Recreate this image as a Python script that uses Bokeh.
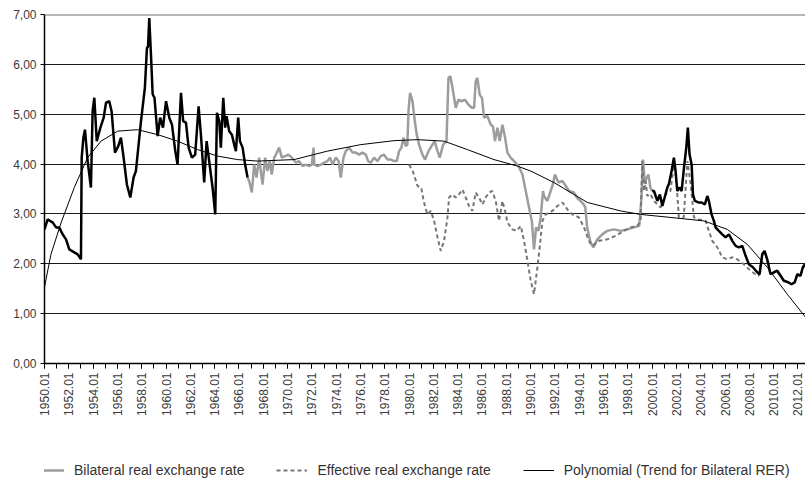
from bokeh.plotting import figure
from bokeh.layouts import column
from bokeh.models import (ColumnDataSource, FixedTicker, CustomJSTickFormatter,
                          Legend, LegendItem, Span)
from bokeh.embed import file_html
from bokeh.resources import INLINE

# ---- Bilateral real exchange rate (decimal year, value) ----
bil_year = [
    1950.00, 1950.26, 1950.45, 1950.67, 1950.95, 1951.20, 1951.50, 1951.77, 1952.04, 1952.45,
    1952.73, 1953.00, 1953.06, 1953.20, 1953.33, 1953.55, 1953.82, 1953.96, 1954.10, 1954.30,
    1954.60, 1954.87, 1955.06, 1955.33, 1955.52, 1955.80, 1956.07, 1956.29, 1956.51, 1956.78,
    1957.06, 1957.33, 1957.52, 1957.94, 1958.26, 1958.43, 1958.52, 1958.62, 1958.76, 1958.90,
    1959.05, 1959.31, 1959.52, 1959.75, 1960.00, 1960.27, 1960.49, 1960.76, 1960.95, 1961.23,
    1961.41, 1961.64, 1961.86, 1962.13, 1962.40, 1962.68, 1962.87, 1963.14, 1963.34, 1963.55,
    1963.83, 1964.05, 1964.19, 1964.38, 1964.51, 1964.71, 1964.87, 1964.98, 1965.20, 1965.42,
    1965.61, 1965.75, 1965.94, 1966.08, 1966.30, 1966.51, 1966.71,
    1966.84, 1967.06, 1967.25, 1967.45, 1967.66, 1967.94, 1968.16, 1968.35, 1968.54, 1968.70,
    1968.90, 1969.05, 1969.31, 1969.53, 1969.80, 1970.08, 1970.35, 1970.68, 1970.95, 1971.23,
    1971.50, 1971.78, 1972.00, 1972.14, 1972.20, 1972.47, 1972.74, 1973.01, 1973.28, 1973.50,
    1973.70, 1973.97, 1974.20, 1974.38, 1974.60, 1974.79, 1975.07, 1975.35, 1975.62, 1975.89,
    1976.16, 1976.44, 1976.63, 1976.85, 1977.12, 1977.40, 1977.67, 1977.94, 1978.22, 1978.50,
    1978.77, 1978.99, 1979.18, 1979.37, 1979.54, 1979.73, 1979.86, 1979.95, 1980.08, 1980.28,
    1980.47, 1980.63, 1980.82, 1981.10, 1981.32, 1981.60, 1981.92, 1982.10, 1982.34, 1982.52,
    1982.80, 1983.08, 1983.24, 1983.40, 1983.62, 1983.84, 1984.06, 1984.33, 1984.60, 1984.89,
    1985.16, 1985.35, 1985.48, 1985.62, 1985.81, 1986.00, 1986.17, 1986.45, 1986.72, 1986.90,
    1987.07, 1987.27, 1987.46, 1987.68, 1987.90, 1988.09, 1988.36, 1988.64, 1989.00, 1989.33,
    1989.60, 1989.87, 1990.10, 1990.28, 1990.45, 1990.64, 1990.83, 1991.02, 1991.10, 1991.38,
    1991.65, 1991.83, 1992.00, 1992.30, 1992.62, 1992.90, 1993.16, 1993.57, 1993.80, 1994.10,
    1994.37, 1994.50, 1994.65, 1994.93, 1995.16, 1995.49, 1995.90, 1996.30, 1996.86, 1997.41,
    1997.96, 1998.50, 1998.94, 1999.10, 1999.25, 1999.40, 1999.55, 1999.70, 1999.85, 2000.00,
    2000.15, 2000.43, 2000.64, 2000.84, 2001.03, 2001.25, 2001.38, 2001.60, 2001.79, 2001.93,
    2002.07, 2002.26, 2002.43, 2002.62, 2002.81, 2002.94, 2003.08, 2003.25, 2003.36, 2003.52,
    2003.80, 2004.07, 2004.34, 2004.54, 2004.67, 2004.89, 2005.08, 2005.22, 2005.49, 2005.77,
    2006.04, 2006.32, 2006.60, 2006.87, 2007.14, 2007.42, 2007.69, 2007.96, 2008.29, 2008.65,
    2008.84, 2009.06, 2009.25, 2009.47, 2009.74, 2010.02, 2010.30, 2010.57, 2010.84, 2011.20,
    2011.47, 2011.74, 2011.94, 2012.21, 2012.40, 2012.57,
]
bil_value = [
    2.69, 2.89, 2.86, 2.83, 2.73, 2.73, 2.59, 2.49, 2.29, 2.23,
    2.19, 2.09, 4.13, 4.53, 4.69, 4.06, 3.53, 5.06, 5.33, 4.46,
    4.73, 4.93, 5.23, 5.26, 5.06, 4.23, 4.36, 4.53, 4.13, 3.59,
    3.33, 3.73, 3.86, 4.86, 5.53, 6.33, 6.36, 6.93, 6.20, 5.40,
    5.33, 4.56, 4.93, 4.73, 5.26, 4.93, 4.79, 4.26, 3.99, 5.43,
    4.86, 4.83, 4.33, 4.13, 4.19, 5.16, 4.59, 3.63, 4.46, 4.06,
    3.53, 2.99, 5.03, 4.86, 4.33, 5.33, 4.73, 4.96, 4.66, 4.59,
    4.39, 4.26, 4.93, 4.46, 4.33, 3.99, 3.73,
    3.66, 3.43, 3.99, 3.73, 4.13, 3.59, 4.13, 3.86, 4.06, 3.79,
    4.13, 4.19, 4.33, 4.13, 4.16, 4.19, 4.13, 4.03, 4.06, 3.96,
    3.99, 3.96, 3.99, 4.33, 3.99, 3.96, 3.99, 4.03, 4.06, 4.13,
    3.99, 4.13, 4.06, 3.73, 4.13, 4.26, 4.33, 4.23, 4.23, 4.19,
    4.23, 4.19, 4.06, 4.03, 4.13, 4.06, 4.16, 4.19, 4.09, 4.09,
    4.06, 4.06, 4.26, 4.33, 4.53, 4.36, 4.39, 5.06, 5.43, 5.26,
    4.86, 4.59, 4.39, 4.19, 4.09, 4.26, 4.39, 4.46, 4.26, 4.13,
    4.39, 4.46, 5.73, 5.76, 5.46, 5.13, 5.29, 5.26, 5.29, 5.19,
    5.13, 5.13, 5.66, 5.73, 5.39, 5.33, 4.93, 4.96, 4.79, 4.76,
    4.46, 4.73, 4.46, 4.79, 4.53, 4.23, 4.13, 4.06, 3.96, 3.79,
    3.46, 3.13, 2.86, 2.29, 2.73, 2.66, 2.93, 3.46, 3.36, 3.26,
    3.46, 3.59, 3.79, 3.63, 3.66, 3.56, 3.46, 3.43, 3.33, 3.26,
    3.19, 3.13, 2.73, 2.43, 2.33, 2.49, 2.59, 2.66, 2.69, 2.66,
    2.69, 2.73, 2.76, 3.26, 4.09, 3.60, 3.73, 3.79, 3.53, 3.46,
    3.46, 3.26, 3.39, 3.16, 3.33, 3.53, 3.60, 3.86, 4.13, 3.86,
    3.46, 3.53, 3.46, 3.93, 4.33, 4.73, 4.19, 3.99, 3.39, 3.26,
    3.23, 3.23, 3.19, 3.36, 3.26, 2.99, 2.86, 2.73, 2.66, 2.59,
    2.53, 2.59, 2.46, 2.36, 2.33, 2.36, 2.16, 1.99, 1.93, 1.83,
    1.79, 2.19, 2.26, 2.09, 1.79, 1.83, 1.86, 1.76, 1.66, 1.63,
    1.59, 1.63, 1.79, 1.76, 1.93, 1.99,
]

# ---- Effective real exchange rate ----
eff_year = [
    1980.00, 1980.30, 1980.70, 1981.00, 1981.20, 1981.50, 1981.78, 1982.06, 1982.34, 1982.60,
    1982.88, 1983.16, 1983.29, 1983.55, 1983.84, 1984.10, 1984.39, 1984.66, 1984.93, 1985.21,
    1985.48, 1985.75, 1986.04, 1986.30, 1986.58, 1986.85, 1987.13, 1987.40, 1987.68, 1987.90,
    1988.09, 1988.50, 1988.85, 1989.19, 1989.46, 1989.74, 1990.01, 1990.28, 1990.56, 1990.75,
    1990.97, 1991.24, 1991.79, 1992.20, 1992.62, 1993.03, 1993.44, 1993.98, 1994.39, 1994.80,
    1995.08, 1995.63, 1996.32, 1997.00, 1997.68, 1998.23, 1998.78, 1999.05, 1999.19, 1999.33,
    1999.47, 1999.60, 1999.85, 2000.15, 2000.70, 2001.10, 2001.50, 2001.83, 2002.05, 2002.20,
    2002.60, 2002.90, 2003.17, 2003.44, 2003.85, 2004.40, 2004.67, 2004.95, 2005.36, 2005.77,
    2006.18, 2006.60, 2007.00, 2007.55, 2008.10, 2008.50, 2008.78, 2009.06, 2009.25, 2009.47,
    2009.74, 2010.02, 2010.30, 2010.57, 2010.84, 2011.20, 2011.47, 2011.74, 2011.94, 2012.21,
    2012.40, 2012.57,
]
eff_value = [
    3.99, 3.86, 3.56, 3.53, 3.26, 2.99, 3.06, 2.86, 2.53, 2.26,
    2.46, 2.93, 3.33, 3.39, 3.33, 3.39, 3.49, 3.33, 3.16, 3.06,
    3.43, 3.33, 3.19, 3.33, 3.43, 3.46, 3.26, 2.86, 3.26, 3.06,
    2.83, 2.69, 2.66, 2.76, 2.46, 2.06, 1.66, 1.39, 1.93, 2.33,
    2.86, 2.99, 3.06, 3.16, 3.23, 3.09, 2.99, 2.93, 2.73, 2.46,
    2.36, 2.46, 2.49, 2.56, 2.66, 2.73, 2.76, 2.86, 4.06, 3.46,
    3.66, 3.36, 3.40, 3.26, 3.13, 3.39, 3.46, 4.06, 3.46, 2.93,
    2.93, 4.06, 3.60, 2.93, 2.89, 2.86, 2.66, 2.46, 2.33, 2.13,
    2.09, 2.13, 2.09, 1.99, 1.86, 1.79, 1.76, 2.19, 2.24, 2.07,
    1.79, 1.81, 1.84, 1.74, 1.66, 1.63, 1.59, 1.63, 1.77, 1.76,
    1.91, 1.97,
]

# ---- Polynomial trend for bilateral RER ----
trend_year = [
    1950.00, 1950.53, 1951.36, 1952.45, 1953.55, 1954.65, 1956.02, 1957.66, 1959.31, 1960.95,
    1962.60, 1964.24, 1965.89, 1967.53, 1970.54, 1973.29, 1976.03, 1978.77, 1980.69, 1982.88,
    1984.80, 1986.99, 1988.91, 1990.01, 1991.92, 1994.67, 1997.41, 1999.05, 2001.50, 2004.26,
    2006.18, 2007.83, 2009.47, 2011.12, 2012.62,
]
trend_value = [
    1.53, 2.19, 2.82, 3.53, 4.13, 4.46, 4.66, 4.69, 4.59, 4.46,
    4.29, 4.16, 4.09, 4.06, 4.09, 4.26, 4.39, 4.47, 4.49, 4.46,
    4.29, 4.09, 3.96, 3.86, 3.63, 3.23, 3.06, 2.99, 2.93, 2.86,
    2.69, 2.39, 1.93, 1.39, 0.93,
]

x_label_years = list(range(1950, 2013, 2))
x_minor_years = list(range(1950, 2013, 1))
y_ticks = [0, 1, 2, 3, 4, 5, 6, 7]
y_grid_ticks = [1, 2, 3, 4, 5, 6]

labels = ["Bilateral real exchange rate", "Effective real exchange rate",
          "Polynomial (Trend for Bilateral RER)"]

# ---- split bilateral into black / gray / black segments ----
BLACK_END = 1966.71
GRAY_END = 2000.0
seg1 = [(x, y) for x, y in zip(bil_year, bil_value) if x <= BLACK_END]
seg2 = [(x, y) for x, y in zip(bil_year, bil_value) if BLACK_END <= x <= GRAY_END]
seg3 = [(x, y) for x, y in zip(bil_year, bil_value) if x >= GRAY_END]


def src(seg):
    return ColumnDataSource(dict(x=[s[0] for s in seg], y=[s[1] for s in seg]))


FONT = "Liberation Sans"
GRAY = dict(line_color="#9d9d9d", line_width=2.5)
DASH = dict(line_color="#767676", line_width=2, line_dash="4 3")
TREND = dict(line_color="black", line_width=1)

p = figure(width=805, height=440, output_backend="svg", toolbar_location=None,
           x_range=(1950, 2012.62), y_range=(0, 7),
           min_border_left=44, min_border_right=0, min_border_top=14,
           min_border_bottom=77, background_fill_color="white",
           border_fill_color="white")
p.outline_line_color = None
p.xgrid.visible = False
p.ygrid.ticker = FixedTicker(ticks=y_grid_ticks)
p.ygrid.grid_line_color = "#1a1a1a"
p.ygrid.grid_line_width = 1

p.add_layout(Span(location=7, dimension="width", line_color="#6e6e6e", line_width=2))

r_gray = p.line("x", "y", source=src(seg2), **GRAY)
r_eff = p.line(eff_year, eff_value, **DASH)
r_b1 = p.line("x", "y", source=src(seg1), line_color="black", line_width=2.5)
r_b3 = p.line("x", "y", source=src(seg3), line_color="black", line_width=2.5)
r_trend = p.line(trend_year, trend_value, **TREND)

# axes
xa = p.xaxis[0]
xa.ticker = FixedTicker(ticks=x_label_years, minor_ticks=x_minor_years)
xa.formatter = CustomJSTickFormatter(code="return tick.toFixed(0) + '.01'")
xa.major_label_orientation = 3.14159265 / 2
xa.axis_line_color = "black"
xa.axis_line_width = 1.5
xa.major_tick_out = 5
xa.major_tick_in = 0
xa.minor_tick_out = 5
xa.minor_tick_in = 0
xa.major_tick_line_color = "black"
xa.minor_tick_line_color = "black"
xa.major_label_text_font = FONT
xa.major_label_text_font_size = "12px"
xa.major_label_text_color = "#3a3a3a"
xa.major_label_standoff = 4

ya = p.yaxis[0]
ya.ticker = FixedTicker(ticks=y_ticks)
ya.formatter = CustomJSTickFormatter(code="return tick.toFixed(2).replace('.', ',')")
ya.axis_line_color = "black"
ya.axis_line_width = 1.5
ya.major_tick_out = 4
ya.major_tick_in = 0
ya.minor_tick_line_color = None
ya.major_tick_line_color = "black"
ya.major_label_text_font = FONT
ya.major_label_text_font_size = "12px"
ya.major_label_text_color = "#3a3a3a"
ya.major_label_standoff = 4

# ---- legend strip below the chart (legend-only proxies, nothing plotted) ----
pl = figure(width=805, height=41, output_backend="svg", toolbar_location=None,
            x_range=(0, 1), y_range=(0, 1), x_axis_location=None,
            y_axis_location=None, min_border=0, background_fill_color="white",
            border_fill_color="white")
pl.outline_line_color = None
pl.grid.visible = False
NAN = [float("nan")]
lg_gray = pl.line(x=NAN, y=NAN, **GRAY)
lg_dash = pl.line(x=NAN, y=NAN, **DASH)
lg_trend = pl.line(x=NAN, y=NAN, **TREND)

legend = Legend(items=[LegendItem(label=labels[0], renderers=[lg_gray]),
                       LegendItem(label=labels[1], renderers=[lg_dash]),
                       LegendItem(label=labels[2], renderers=[lg_trend])],
                location=(-11, 1), orientation="horizontal", margin=0,
                padding=0, spacing=32, glyph_width=31, label_standoff=10,
                border_line_color=None, background_fill_alpha=0,
                label_text_font=FONT,
                label_text_font_size="14px", label_text_color="#333333")
pl.add_layout(legend)

layout = column(p, pl, spacing=0)

open("out.html", "w").write(file_html(layout, INLINE))
